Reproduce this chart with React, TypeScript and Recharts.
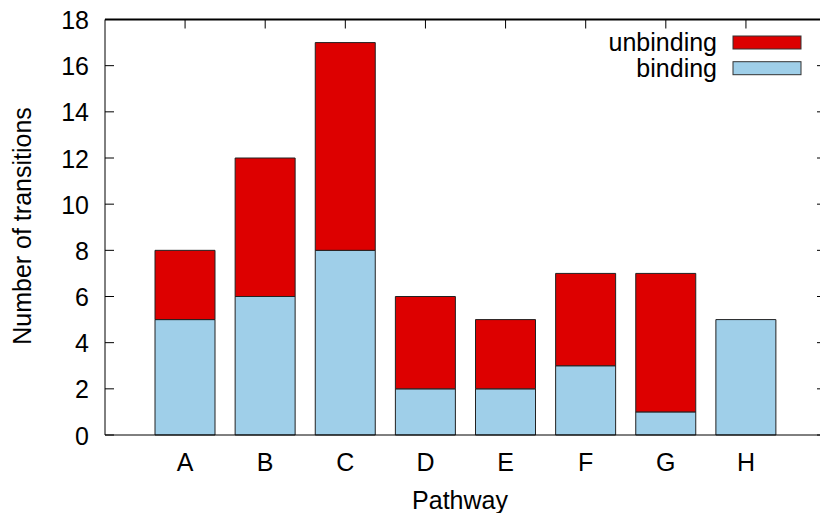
import React from "react";
import { BarChart, Bar, XAxis, YAxis, Label, ReferenceLine } from "recharts";

const categories = ["A", "B", "C", "D", "E", "F", "G", "H"];
const bindingValues = [5, 6, 8, 2, 2, 3, 1, 5];
const unbindingValues = [3, 6, 9, 4, 3, 4, 6, 0];
const yTicks = [0, 2, 4, 6, 8, 10, 12, 14, 16, 18];
const yMax = 18;
const legendItems = [
  { name: "unbinding", color: "#dd0000" },
  { name: "binding", color: "#9fcfe9" },
];

const data = categories.map((name, i) => ({
  name,
  binding: bindingValues[i],
  unbinding: unbindingValues[i],
}));

const FONT = "'Liberation Sans', Arial, Helvetica, sans-serif";
const FS = 25;
const RED = "#dd0000";
const BLUE = "#9fcfe9";
const TICK_LEN_Y_UNITS = 0.39;

const CHART_W = 830;
const MARGIN = { top: 19.5, right: 4, bottom: 48, left: 45 };
const PLOT_RIGHT = CHART_W - MARGIN.right;

const LeftTick = (props: any) => {
  const { x, y, payload } = props;
  return (
    <g>
      <line x1={x} y1={y} x2={x + 9} y2={y} stroke="#000" strokeWidth={1} />
      <line x1={PLOT_RIGHT - 9} y1={y} x2={PLOT_RIGHT} y2={y} stroke="#000" strokeWidth={1} />
      <text x={x - 16} y={y + 9.5} textAnchor="end" fontSize={FS} fontFamily={FONT} fill="#000">
        {payload.value}
      </text>
    </g>
  );
};

const BottomTick = (props: any) => {
  const { x, y, payload } = props;
  return (
    <text x={x} y={y + 36} textAnchor="middle" fontSize={FS} fontFamily={FONT} fill="#000">
      {payload.value}
    </text>
  );
};

const YLabelAndLegend = () => (
  <g>
    <text
      x={31}
      y={226}
      transform="rotate(-90 31 226)"
      textAnchor="middle"
      fontSize={FS}
      fontFamily={FONT}
      fill="#000"
    >
      Number of transitions
    </text>
    {legendItems.map((entry, i) => (
      <g key={entry.name}>
        <text x={717} y={51 + i * 25.7} textAnchor="end" fontSize={FS} fontFamily={FONT} fill="#000">
          {entry.name}
        </text>
        <rect x={733} y={36 + i * 25.7} width={68} height={13} fill={entry.color} stroke="#333" strokeWidth={1} />
      </g>
    ))}
  </g>
);

export default function App() {
  return (
    <div style={{ position: "absolute", left: 0, top: 0, width: 820, height: 513, overflow: "hidden", background: "#fff" }}>
      <BarChart width={CHART_W} height={513} data={data} margin={MARGIN} barSize={60}>
        <XAxis
          dataKey="name"
          type="category"
          height={30}
          padding={{ left: 40, right: 40 }}
          tickSize={0}
          tickMargin={0}
          tickLine={false}
          tick={<BottomTick />}
          axisLine={{ stroke: "#000", strokeWidth: 1 }}
          interval={0}
        >
          <Label
            content={() => (
              <text x={460} y={509} textAnchor="middle" fontSize={FS} fontFamily={FONT} fill="#000">
                Pathway
              </text>
            )}
          />
        </XAxis>
        <YAxis
          type="number"
          domain={[0, yMax]}
          ticks={yTicks}
          width={60}
          tickSize={0}
          tickMargin={0}
          tickLine={false}
          tick={<LeftTick />}
          axisLine={{ stroke: "#000", strokeWidth: 1 }}
          interval={0}
        >
          <Label content={() => <YLabelAndLegend />} />
        </YAxis>
        <Bar dataKey="binding" name="binding" stackId="s" fill={BLUE} stroke="#222" strokeWidth={1} isAnimationActive={false} />
        <Bar dataKey="unbinding" name="unbinding" stackId="s" fill={RED} stroke="#222" strokeWidth={1} isAnimationActive={false} />
        <ReferenceLine y={yMax} stroke="#000" strokeWidth={2} ifOverflow="visible" />
        {categories.map((c) => (
          <ReferenceLine
            key={"t" + c}
            segment={[
              { x: c, y: yMax },
              { x: c, y: yMax - TICK_LEN_Y_UNITS },
            ]}
            stroke="#000"
            strokeWidth={1}
            ifOverflow="visible"
          />
        ))}
      </BarChart>
    </div>
  );
}
